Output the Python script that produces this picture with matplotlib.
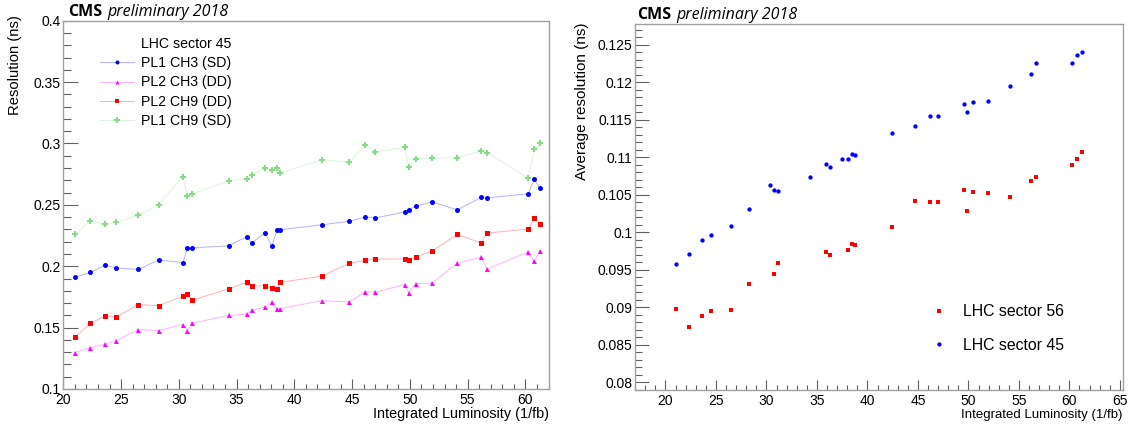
import numpy as np
import matplotlib
matplotlib.use("Agg")
import matplotlib.pyplot as plt
from matplotlib.ticker import MultipleLocator, FuncFormatter
from matplotlib.lines import Line2D

# ---------------- data ----------------
lumi = [21.0, 22.35, 23.65, 24.55, 26.5, 28.25, 30.35, 30.75, 31.15, 34.3,
        35.9, 36.3, 37.45, 38.05, 38.5, 38.75, 42.4, 44.75, 46.15, 47.0,
        49.55, 49.9, 50.5, 51.9, 54.1, 56.15, 56.7, 60.25, 60.75, 61.25]

pl1_ch3 = [0.191, 0.195, 0.201, 0.1985, 0.1975, 0.205, 0.203, 0.2147, 0.215, 0.2166,
           0.2242, 0.2188, 0.2273, 0.2163, 0.2294, 0.2297, 0.2338, 0.2366, 0.2401, 0.2393,
           0.2442, 0.2461, 0.2489, 0.2524, 0.2459, 0.256, 0.2557, 0.259, 0.2708, 0.2634]
pl2_ch3 = [0.1296, 0.1337, 0.1367, 0.1394, 0.1484, 0.1476, 0.1525, 0.1476, 0.1536, 0.1599,
           0.161, 0.164, 0.1668, 0.1706, 0.1649, 0.1654, 0.172, 0.1709, 0.1791, 0.1788,
           0.1851, 0.1785, 0.1859, 0.1862, 0.2026, 0.2073, 0.1977, 0.2117, 0.204, 0.2122]
pl2_ch9 = [0.1421, 0.1534, 0.1597, 0.1586, 0.1687, 0.1679, 0.1755, 0.1775, 0.1722, 0.1816,
           0.187, 0.1837, 0.1843, 0.1821, 0.1816, 0.1868, 0.192, 0.2024, 0.2048, 0.2059,
           0.2059, 0.2051, 0.2078, 0.2122, 0.2259, 0.219, 0.227, 0.2303, 0.2393, 0.2344]
pl1_ch9 = [0.2259, 0.2368, 0.2344, 0.2357, 0.2415, 0.25, 0.273, 0.2574, 0.2587, 0.2697,
           0.2713, 0.2743, 0.2801, 0.2787, 0.2801, 0.2757, 0.2869, 0.2847, 0.2988, 0.2931,
           0.2969, 0.2811, 0.2877, 0.288, 0.2885, 0.2937, 0.2924, 0.2718, 0.2952, 0.3]

series_labels = ["PL1 CH3 (SD)", "PL2 CH3 (DD)", "PL2 CH9 (DD)", "PL1 CH9 (SD)"]
legend_header = "LHC sector 45"

avg_45 = [0.09576, 0.09714, 0.09892, 0.09958, 0.10083, 0.10305, 0.10629, 0.10567, 0.10544, 0.10735,
          0.10907, 0.10876, 0.10978, 0.10982, 0.1104, 0.11035, 0.11323, 0.1142, 0.11549, 0.11553,
          0.11708, 0.11606, 0.11739, 0.11752, 0.11951, 0.12106, 0.12261, 0.12261, 0.12367, 0.12412]

lumi_56 = [21.0, 22.35, 23.65, 24.55, 26.5, 28.25, 30.75, 31.15, 35.9, 36.3,
           38.05, 38.5, 38.75, 42.4, 44.75, 46.15, 47.0, 49.55, 49.9, 50.5,
           51.9, 54.1, 56.15, 56.7, 60.25, 60.75, 61.25]
avg_56 = [0.08972, 0.08737, 0.08875, 0.0895, 0.08968, 0.0931, 0.09439, 0.0959, 0.09742, 0.09693,
          0.09756, 0.0984, 0.09831, 0.10065, 0.10412, 0.10407, 0.10403, 0.10562, 0.10283, 0.10535,
          0.10518, 0.10465, 0.10686, 0.10735, 0.10894, 0.10978, 0.11066]

right_labels = ["LHC sector 56", "LHC sector 45"]

# ---------------- figure ----------------
W, H = 1133, 428
fig = plt.figure(figsize=(W / 100, H / 100), dpi=100)
plt.rcParams['font.family'] = ['Liberation Sans', 'DejaVu Sans']

def px_axes(x0, x1, ytop, ybot):
    return fig.add_axes([x0 / W, (H - ybot) / H, (x1 - x0) / W, (ybot - ytop) / H])

axL = px_axes(63.3, 549.0, 20.7, 389.0)
axR = px_axes(635.0, 1122.5, 24.0, 389.5)

FRAME = '#a0a0a0'
TICK = '#606060'
gfmt = FuncFormatter(lambda v, p: f"{v:g}")

def style(ax, ylen):
    for s in ax.spines.values():
        s.set_color(FRAME)
        s.set_linewidth(1.0)
    ax.tick_params(axis='both', which='both', direction='in', top=False, right=False,
                   color=TICK, labelsize=10, labelcolor='black', width=0.8)
    ax.tick_params(axis='y', which='major', length=ylen, pad=2)
    ax.tick_params(axis='y', which='minor', length=ylen / 2)
    ax.tick_params(axis='x', which='major', length=7.5, pad=3)
    ax.tick_params(axis='x', which='minor', length=3.8)
    ax.xaxis.set_major_locator(MultipleLocator(5))
    ax.xaxis.set_minor_locator(MultipleLocator(1))
    ax.yaxis.set_major_formatter(gfmt)
    ax.xaxis.set_major_formatter(gfmt)

# ---- left panel ----
colors = ['#0000ff', '#ff00ff', '#ff0000', '#86dc86']
markers = ['o', '^', 's', 'P']
msizes = [3.6, 3.6, 3.6, 4.6]
for ys, c, m, ms in zip([pl1_ch3, pl2_ch3, pl2_ch9, pl1_ch9], colors, markers, msizes):
    axL.plot(lumi, ys, color=c, lw=0.7, alpha=0.3, zorder=2)
    axL.plot(lumi, ys, linestyle='none', marker=m, ms=ms, color=c, mec=c, mew=0, zorder=3)

leg_handles = [Line2D([], [], linestyle='none')]
for c, m, ms in zip(colors, markers, msizes):
    leg_handles.append(Line2D([], [], color=matplotlib.colors.to_rgba(c, 0.3), lw=0.7,
                              marker=m, ms=ms * 0.8, mew=0, markerfacecolor=c,
                              markeredgecolor=c))
axL.set_xlim(20, 62.04)
axL.set_ylim(0.1, 0.4)
axL.yaxis.set_major_locator(MultipleLocator(0.05))
axL.yaxis.set_minor_locator(MultipleLocator(0.01))
style(axL, 10.8)
axL.legend(leg_handles, [legend_header] + series_labels, loc='upper left',
           bbox_to_anchor=(0.0756, 0.955), frameon=False, fontsize=10.2,
           handlelength=2.4, handletextpad=0.5, labelspacing=0.36,
           borderpad=0, borderaxespad=0)

axL.set_xlabel("Integrated Luminosity (1/fb)", fontsize=10.4, loc='right')
axL.xaxis.set_label_coords(1.0, -0.068)
axL.xaxis.label.set_va('center')
axL.text(-0.0994, 1.0155, "Resolution (ns)", rotation=90, ha='center', va='top',
         fontsize=10.6, transform=axL.transAxes)

# ---- right panel ----
axR.plot(lumi_56, avg_56, linestyle='none', marker='s', ms=3.0, color='#ff0000', mew=0,
         label=right_labels[0])
axR.plot(lumi, avg_45, linestyle='none', marker='o', ms=3.1, color='#0000ff', mew=0,
         label=right_labels[1])
axR.set_xlim(16.98, 65.26)
axR.set_ylim(0.0790, 0.1278)
axR.yaxis.set_major_locator(MultipleLocator(0.005))
axR.yaxis.set_minor_locator(MultipleLocator(0.001))
style(axR, 10.0)
axR.legend(loc='upper left', bbox_to_anchor=(0.607, 0.233), frameon=False,
           fontsize=11.4, handlelength=1.0, handletextpad=1.0, labelspacing=1.15,
           borderpad=0, borderaxespad=0, markerscale=1.0)
axR.set_xlabel("Integrated Luminosity (1/fb)", fontsize=9.5, loc='right')
axR.xaxis.set_label_coords(1.0, -0.07)
axR.xaxis.label.set_va('center')
axR.text(-0.1093, 1.003, "Average resolution (ns)", rotation=90, ha='center', va='top',
         fontsize=11.0, transform=axR.transAxes)

# ---- CMS labels ----
def cms_label(ax, x, y):
    t1 = ax.text(x, y, "CMS", fontsize=11.5, fontweight='bold', family='Open Sans',
                 ha='left', va='bottom', transform=ax.transAxes)
    ax.annotate("preliminary 2018", xy=(1, 0), xycoords=t1, xytext=(3.2, 0),
                textcoords='offset points', fontsize=11.5, style='italic',
                family='Open Sans', ha='left', va='bottom')

cms_label(axL, 0.0103, 1.003)
cms_label(axR, 0.005, 1.003)

fig.savefig("out.png", dpi=100)
